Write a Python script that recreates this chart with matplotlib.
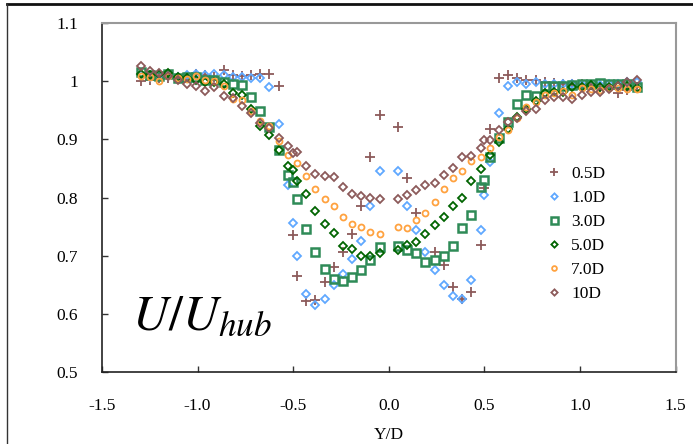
import numpy as np
import matplotlib
matplotlib.use("Agg")
import matplotlib.pyplot as plt
from matplotlib.lines import Line2D

plt.rcParams["font.family"] = ["Liberation Serif", "DejaVu Serif"]
plt.rcParams["mathtext.fontset"] = "stix"

nan = np.nan

# lateral positions Y/D
yd = [-1.296, -1.248, -1.200, -1.152, -1.104, -1.056, -1.008, -0.960, -0.912, -0.864,
      -0.816, -0.768, -0.720, -0.672, -0.624, -0.576, -0.528, -0.500, -0.480, -0.432,
      -0.384, -0.336, -0.288, -0.240, -0.192, -0.144, -0.096, -0.048,
      0.048, 0.096, 0.144, 0.192, 0.240, 0.288, 0.336, 0.384, 0.432, 0.480,
      0.500, 0.528, 0.576, 0.624, 0.672, 0.720, 0.768, 0.816, 0.864, 0.912,
      0.960, 1.008, 1.056, 1.104, 1.152, 1.200, 1.248, 1.296]

u_05 = [1.001, 1.003, 1.005, 1.006, 1.004, 1.005, 1.012, 1.010, 1.008, 1.019,
        1.011, 1.009, 1.010, 1.012, 1.012, 0.992, nan, 0.736, 0.666, 0.623,
        0.624, 0.654, 0.681, 0.707, 0.737, 0.785, 0.869, 0.942,
        0.922, 0.834, 0.773, nan, 0.707, 0.684, 0.647, 0.626, 0.638, 0.718,
        0.816, 0.918, 1.005, 1.011, 1.005, 1.003, 1.002, 0.998, 0.997, 0.996,
        0.995, 0.996, 0.993, 0.990, 0.988, 0.979, 0.985, 0.990]
u_10 = [1.010, 1.008, 1.010, 1.009, 1.008, 1.010, 1.013, 1.011, 1.012, 1.010,
        1.008, 1.007, 1.005, 1.005, 0.990, 0.926, 0.821, 0.756, 0.699, 0.635,
        0.616, 0.626, 0.650, 0.668, 0.695, 0.726, 0.785, 0.845,
        0.845, 0.786, 0.745, 0.707, 0.675, 0.650, 0.630, 0.626, 0.659, 0.745,
        0.804, 0.862, 0.946, 0.992, 0.999, 0.996, 0.998, 0.995, 0.995, 0.996,
        0.995, 0.994, 0.994, 0.993, 0.995, 0.996, 0.998, 0.999]
u_30 = [1.016, 1.011, 1.009, 1.012, 1.005, 1.007, 1.007, 1.003, 1.002, 0.999,
        0.996, 0.993, 0.973, 0.949, 0.922, 0.881, 0.839, 0.826, 0.797, 0.746,
        0.707, 0.677, 0.660, 0.657, 0.663, 0.676, 0.692, 0.715,
        0.717, 0.710, 0.704, 0.690, 0.693, 0.700, 0.716, 0.747, 0.770, 0.819,
        0.830, 0.870, 0.902, 0.930, 0.961, 0.977, 0.975, 0.992, 0.992, 0.992,
        0.993, 0.996, 0.996, 0.997, 0.996, 0.995, 0.995, 0.990]
u_50 = [1.012, 1.010, 1.013, 1.015, 1.008, 1.005, 1.003, 0.999, 0.998, 0.995,
        0.979, 0.976, 0.953, 0.923, 0.907, 0.882, 0.855, 0.847, 0.828, 0.806,
        0.777, 0.755, 0.739, 0.717, 0.712, 0.699, 0.699, 0.704,
        0.710, 0.718, 0.723, 0.738, 0.753, 0.766, 0.786, 0.800, 0.829, 0.849,
        nan, 0.873, 0.896, 0.918, 0.939, 0.952, 0.966, 0.980, 0.982, 0.982,
        0.990, 0.990, 0.993, 0.990, 0.990, 0.992, 0.992, 0.989]
u_70 = [1.009, 1.007, 1.001, 1.009, 1.005, 1.004, 1.009, 1.002, 1.001, 0.991,
        0.970, 0.968, 0.949, 0.931, 0.923, 0.898, 0.873, nan, 0.859, 0.837,
        0.815, 0.797, 0.786, 0.766, 0.754, 0.749, 0.741, 0.738,
        0.749, 0.747, 0.762, 0.773, 0.793, 0.815, 0.833, 0.846, 0.863, 0.869,
        nan, 0.886, 0.905, 0.916, 0.936, 0.955, 0.965, 0.977, 0.980, 0.984,
        0.977, 0.989, 0.986, 0.985, 0.988, 0.988, 0.987, 0.987]
u_100 = [1.026, 1.018, 1.015, 1.009, 1.003, 0.996, 0.992, 0.984, 0.990, 0.975,
         0.971, 0.957, 0.946, 0.929, 0.919, 0.902, 0.889, 0.876, 0.878, 0.855,
         0.841, 0.837, 0.835, 0.818, 0.806, 0.803, 0.800, 0.797,
         0.797, 0.804, 0.813, 0.821, 0.825, 0.838, 0.851, 0.869, 0.871, 0.885,
         0.899, 0.899, 0.916, 0.930, 0.937, 0.948, 0.952, 0.967, 0.973, 0.973,
         0.970, 0.977, 0.982, 0.982, 0.986, 0.992, 0.999, 1.003]

labels = ["0.5D", "1.0D", "3.0D", "5.0D", "7.0D", "10D"]
series = [u_05, u_10, u_30, u_50, u_70, u_100]
styles = [
    dict(marker="+", color="#8c5a5a", ms=7, mew=1.3, mfc="none"),
    dict(marker="D", color="#5fa8ff", ms=4.0, mew=1.3, mfc="none"),
    dict(marker="s", color="#2e8b57", ms=6.3, mew=1.8, mfc="none"),
    dict(marker="D", color="#006400", ms=4.0, mew=1.3, mfc="none"),
    dict(marker="o", color="#ffa23f", ms=4.3, mew=1.3, mfc="none"),
    dict(marker="D", color="#8c5a5a", ms=4.0, mew=1.3, mfc="none"),
]

fig = plt.figure(figsize=(6.93, 4.44), dpi=100)
ax = fig.add_axes([0.147, 0.162, 0.828, 0.786])

for y, lab, st in zip(series, labels, styles):
    ax.plot(yd, y, ls="none", label=lab, **st)

ax.set_xlim(-1.5, 1.5)
ax.set_ylim(0.5, 1.1)
ax.set_xticks([-1.5, -1.0, -0.5, 0.0, 0.5, 1.0, 1.5])
ax.set_xticklabels(["-1.5", "-1.0", "-0.5", "0.0", "0.5", "1.0", "1.5"])
ax.set_yticks([0.5, 0.6, 0.7, 0.8, 0.9, 1.0, 1.1])
ax.set_yticklabels(["0.5", "0.6", "0.7", "0.8", "0.9", "1", "1.1"])
ax.tick_params(direction="in", length=4, width=1, labelsize=12.5, color="#333333")
ax.tick_params(axis="x", pad=19)
ax.tick_params(axis="y", pad=17)
ax.set_xlabel("Y/D", fontsize=12.5, labelpad=9)

for s in ["left", "bottom"]:
    ax.spines[s].set_color("#222222")
    ax.spines[s].set_linewidth(1.2)
for s in ["top", "right"]:
    ax.spines[s].set_color("#999999")
    ax.spines[s].set_linewidth(1.5)

ax.text(-1.34, 0.573, r"$U/U_{hub}$", fontsize=36, ha="left", va="baseline")

ax.legend(loc="upper left", bbox_to_anchor=(0.748, 0.635), frameon=False,
          fontsize=12.5, handlelength=0.8, handletextpad=0.6, labelspacing=0.45,
          markerscale=0.8)

# outer frame lines
fig.add_artist(Line2D([0.010, 1.0], [0.991, 0.991], color="#111111", lw=2.0))
fig.add_artist(Line2D([0.010, 0.010], [0.0, 0.991], color="#333333", lw=1.0))

fig.savefig("out.png", dpi=100)
